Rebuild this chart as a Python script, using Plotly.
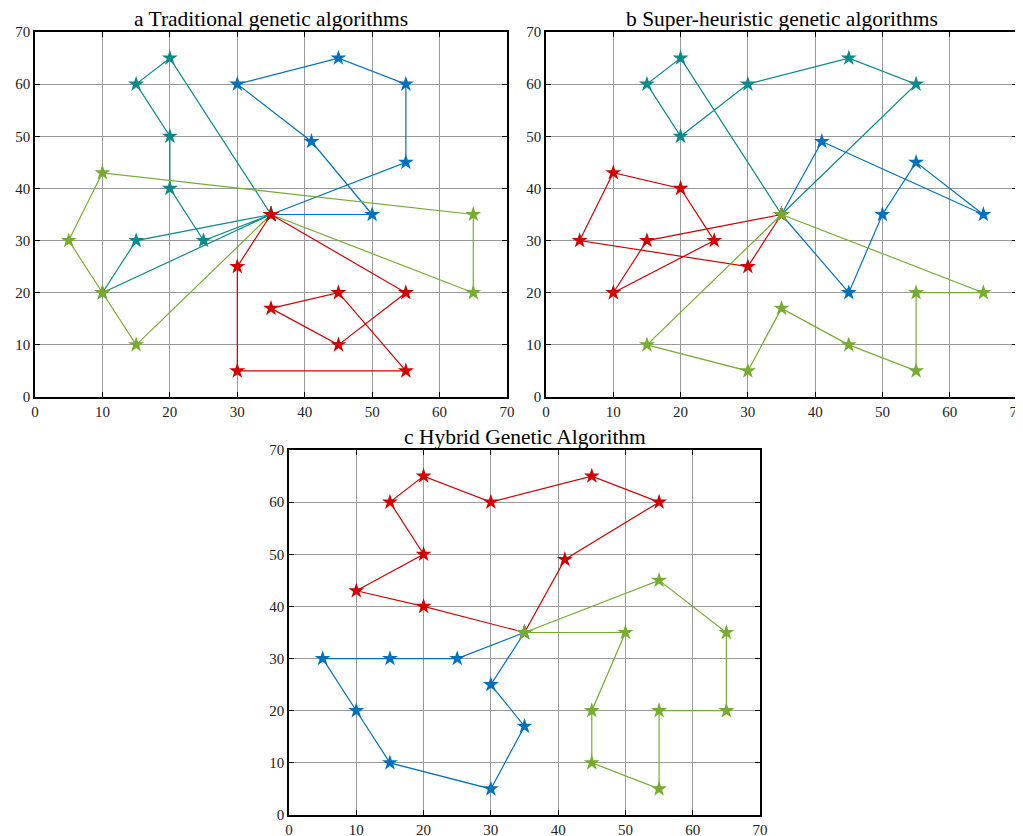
import plotly.graph_objects as go

# Panel a: Traditional genetic algorithms
a_blue_x = [35, 50, 41, 30, 45, 55, 55, 35]
a_blue_y = [35, 35, 49, 60, 65, 60, 45, 35]
a_teal_x = [35, 20, 15, 20, 20, 25, 35, 15, 10, 35]
a_teal_y = [35, 65, 60, 50, 40, 30, 35, 30, 20, 35]
a_green_x = [35, 15, 10, 5, 10, 65, 65, 35]
a_green_y = [35, 10, 20, 30, 43, 35, 20, 35]
a_red_x = [35, 30, 30, 55, 45, 35, 45, 55, 35]
a_red_y = [35, 25, 5, 5, 20, 17, 10, 20, 35]

# Panel b: Super-heuristic genetic algorithms
b_teal_x = [35, 20, 15, 20, 30, 45, 55, 35]
b_teal_y = [35, 65, 60, 50, 60, 65, 60, 35]
b_blue_x = [35, 41, 65, 55, 50, 45, 35]
b_blue_y = [35, 49, 35, 45, 35, 20, 35]
b_red_x = [35, 15, 10, 25, 20, 10, 5, 30, 35]
b_red_y = [35, 30, 20, 30, 40, 43, 30, 25, 35]
b_green_x = [35, 15, 30, 35, 45, 55, 55, 65, 35]
b_green_y = [35, 10, 5, 17, 10, 5, 20, 20, 35]

# Panel c: Hybrid Genetic Algorithm
c_red_x = [35, 20, 10, 20, 15, 20, 30, 45, 55, 41, 35]
c_red_y = [35, 40, 43, 50, 60, 65, 60, 65, 60, 49, 35]
c_blue_x = [35, 25, 15, 5, 10, 15, 30, 35, 30, 35]
c_blue_y = [35, 30, 30, 30, 20, 10, 5, 17, 25, 35]
c_green_x = [35, 50, 45, 45, 55, 55, 65, 65, 55, 35]
c_green_y = [35, 35, 20, 10, 5, 20, 20, 35, 45, 35]

titles = ["a Traditional genetic algorithms",
          "b Super-heuristic genetic algorithms",
          "c Hybrid Genetic Algorithm"]
tick_vals = [0, 10, 20, 30, 40, 50, 60, 70]

BLUE = "#0072BD"
TEAL = "#0A8A8A"
GREEN = "#77AC30"
RED = "#D40000"

panels = [
    ("x", "y", [(a_blue_x, a_blue_y, BLUE), (a_teal_x, a_teal_y, TEAL),
                (a_green_x, a_green_y, GREEN), (a_red_x, a_red_y, RED)]),
    ("x2", "y2", [(b_teal_x, b_teal_y, TEAL), (b_blue_x, b_blue_y, BLUE),
                  (b_red_x, b_red_y, RED), (b_green_x, b_green_y, GREEN)]),
    ("x3", "y3", [(c_red_x, c_red_y, RED), (c_blue_x, c_blue_y, BLUE),
                  (c_green_x, c_green_y, GREEN)]),
]

fig = go.Figure()
for xa, ya, series in panels:
    for xs, ys, col in series:
        fig.add_trace(go.Scatter(
            x=xs, y=ys, xaxis=xa, yaxis=ya, mode="lines+markers",
            line=dict(color=col, width=1.2),
            marker=dict(symbol="star", size=12, color=col, line=dict(width=0)),
            showlegend=False, hoverinfo="x+y"))

OFF = 8  # default body margin of the page
W, H = 1023, 836


def dx(px0, px1):
    return ((px0 - OFF) / W, (px1 - OFF) / W)


def dy(top, bottom):
    return ((H - (bottom - OFF)) / H, (H - (top - OFF)) / H)


doms = [
    (dx(35, 507), dy(32, 397)),
    (dx(546, 1017), dy(32, 397)),
    (dx(289, 760), dy(450, 815)),
]

axis_common = dict(
    range=[0, 70], tickvals=tick_vals, showgrid=True, gridcolor="#9a9a9a",
    gridwidth=1, showline=True, linecolor="black", linewidth=1.5, mirror="ticks",
    ticks="inside", ticklen=5, tickcolor="black", zeroline=False,
    automargin=False,
    tickfont=dict(family="Liberation Serif", size=15, color="#222"),
    fixedrange=True)

layout = dict(
    width=W, height=H, margin=dict(l=0, r=0, t=0, b=0, autoexpand=False),
    paper_bgcolor="white", plot_bgcolor="white", showlegend=False)

annotations = []
for i, ((xd, yd), title) in enumerate(zip(doms, titles)):
    sfx = "" if i == 0 else str(i + 1)
    layout["xaxis" + sfx] = dict(axis_common, domain=[max(0, xd[0]), min(1, xd[1])],
                                 anchor="y" + sfx, ticklabelstandoff=0)
    layout["yaxis" + sfx] = dict(axis_common, domain=[max(0, yd[0]), min(1, yd[1])],
                                 anchor="x" + sfx)
    annotations.append(dict(
        text=title, xref="paper", yref="paper", x=(xd[0] + xd[1]) / 2,
        y=yd[1], xanchor="center", yanchor="bottom", yshift=0, borderpad=0,
        showarrow=False,
        font=dict(family="Liberation Serif", size=21.5, color="black")))
layout["annotations"] = annotations

fig.update_layout(**layout)
fig.write_html("out.html")
